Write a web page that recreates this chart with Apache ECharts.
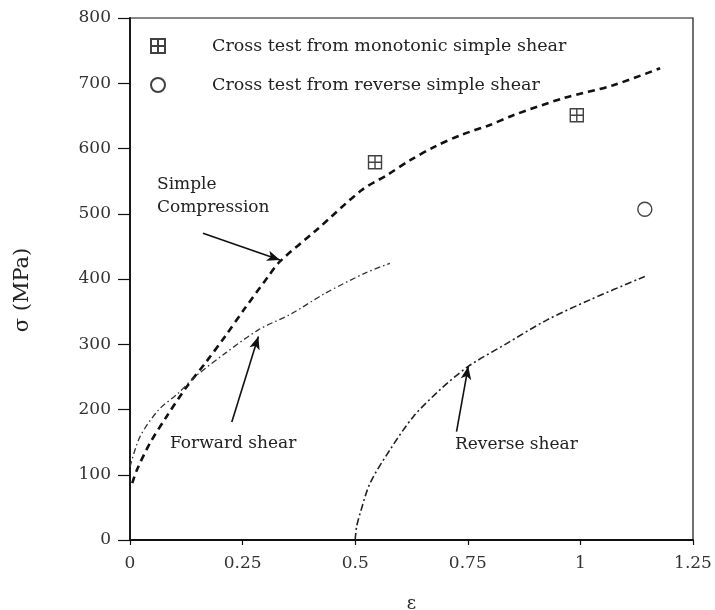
<!DOCTYPE html>
<html>
<head>
<meta charset="utf-8">
<script src="https://cdn.jsdelivr.net/npm/echarts@6/dist/echarts.min.js"></script>
<style>
  html, body { margin: 0; padding: 0; background: #fff; }
  #chart { width: 715px; height: 610px; }
</style>
</head>
<body>
<div id="chart"></div>
<script>
// Strain (ε) and stress σ (MPa) for each test
const compStrain = [0.005, 0.015, 0.044, 0.081, 0.126, 0.167, 0.211, 0.255, 0.307, 0.333, 0.414, 0.514, 0.570, 0.622, 0.677, 0.736, 0.799, 0.851, 0.962, 1.073, 1.177];
const compStress = [87, 107, 148, 189, 235, 271, 312, 355, 404, 427, 475, 536, 559, 582, 603, 621, 636, 651, 677, 697, 723];

const fwdStrain = [0, 0.022, 0.063, 0.107, 0.144, 0.211, 0.285, 0.359, 0.433, 0.522, 0.577];
const fwdStress = [112, 158, 199, 225, 250, 286, 322, 347, 378, 409, 424];

const revStrain = [0.5, 0.503, 0.511, 0.533, 0.577, 0.629, 0.688, 0.751, 0.836, 0.925, 1.021, 1.143];
const revStress = [0, 20, 41, 87, 138, 189, 230, 266, 301, 337, 368, 404];

const monoCrossStrain = [0.544, 0.992];
const monoCrossStress = [579, 651];

const revCrossStrain = [1.143];
const revCrossStress = [507];

const zip = (xs, ys) => xs.map((x, i) => [x, ys[i]]);

const FONT = 'DejaVu Serif';
const boxCross = 'path://M0,0 L12,0 L12,12 L0,12 Z M6,0 L6,12 M0,6 L12,6';

const chart = echarts.init(document.getElementById('chart'));

// arrow helper: [tail, tip] in data coordinates
const arrow = (tail, tip) => [{ coord: tail, symbol: 'none' }, { coord: tip, symbol: 'arrow' }];
const arrowLine = (tail, tip) => ({
  silent: true, symbolSize: [8, 13],
  lineStyle: { color: '#111', width: 1.6, type: 'solid' },
  label: { show: false },
  data: [arrow(tail, tip)]
});

chart.setOption({
  backgroundColor: '#fff',
  animation: false,
  grid: {
    left: 130, right: 22, top: 18, bottom: 70,
    outerBoundsMode: 'none',
    containLabel: false,
    show: true, borderColor: '#111', borderWidth: 1.2
  },
  legend: {
    data: ['Cross test from monotonic simple shear', 'Cross test from reverse simple shear'],
    orient: 'vertical',
    left: 145, top: 32,
    itemWidth: 14, itemHeight: 14,
    itemGap: 21,
    textStyle: { fontFamily: FONT, fontSize: 17.5, color: '#222', padding: [0, 0, 0, 42] }
  },
  xAxis: {
    type: 'value', min: 0, max: 1.25, interval: 0.25,
    name: 'ε', nameLocation: 'middle', nameGap: 55,
    nameTextStyle: { fontFamily: FONT, fontSize: 18, color: '#222' },
    axisLine: { show: true, lineStyle: { color: '#111', width: 1.8 } },
    axisTick: { show: true, length: 5, lineStyle: { color: '#111', width: 1.2 } },
    axisLabel: { fontFamily: FONT, fontSize: 17, color: '#333', margin: 15 },
    splitLine: { show: false }
  },
  yAxis: {
    type: 'value', min: 0, max: 800, interval: 100,
    name: 'σ (MPa)', nameLocation: 'middle', nameGap: 97, nameRotate: 90,
    nameTextStyle: { fontFamily: FONT, fontSize: 21, color: '#222', padding: [0, 22, 0, 0] },
    axisLine: { show: true, lineStyle: { color: '#111', width: 1.8 } },
    axisTick: { show: true, length: 12, lineStyle: { color: '#111', width: 1.2 } },
    axisLabel: { fontFamily: FONT, fontSize: 17, color: '#333', margin: 19 },
    splitLine: { show: false }
  },
  series: [
    {
      name: 'Simple Compression', type: 'line', data: zip(compStrain, compStress),
      showSymbol: false, smooth: 0.3,
      lineStyle: { color: '#111', width: 2.6, type: [7, 5] },
      markLine: arrowLine([0.162, 470], [0.333, 429])
    },
    {
      name: 'Forward shear', type: 'line', data: zip(fwdStrain, fwdStress),
      showSymbol: false, smooth: 0.3,
      lineStyle: { color: '#333', width: 1.3, type: [6, 3, 1.5, 3] },
      markLine: arrowLine([0.226, 181], [0.285, 312])
    },
    {
      name: 'Reverse shear', type: 'line', data: zip(revStrain, revStress),
      showSymbol: false, smooth: 0.3,
      lineStyle: { color: '#222', width: 1.6, type: [7, 3, 2, 3] },
      markLine: arrowLine([0.725, 166], [0.751, 266])
    },
    {
      name: 'Cross test from monotonic simple shear', type: 'scatter',
      data: zip(monoCrossStrain, monoCrossStress),
      symbol: boxCross, symbolSize: 13,
      itemStyle: { color: 'transparent', borderColor: '#111', borderWidth: 1.4 }
    },
    {
      name: 'Cross test from reverse simple shear', type: 'scatter',
      data: zip(revCrossStrain, revCrossStress),
      symbol: 'circle', symbolSize: 14,
      itemStyle: { color: 'transparent', borderColor: '#111', borderWidth: 1.4 }
    }
  ],
  graphic: [
    { type: 'text', left: 157, top: 173, style: { text: 'Simple\nCompression', font: '17px "DejaVu Serif"', fill: '#222', lineHeight: 23 } },
    { type: 'text', left: 170, top: 435, style: { text: 'Forward shear', font: '17px "DejaVu Serif"', fill: '#222' } },
    { type: 'text', left: 455, top: 436, style: { text: 'Reverse shear', font: '17px "DejaVu Serif"', fill: '#222' } }
  ]
});
</script>
</body>
</html>
